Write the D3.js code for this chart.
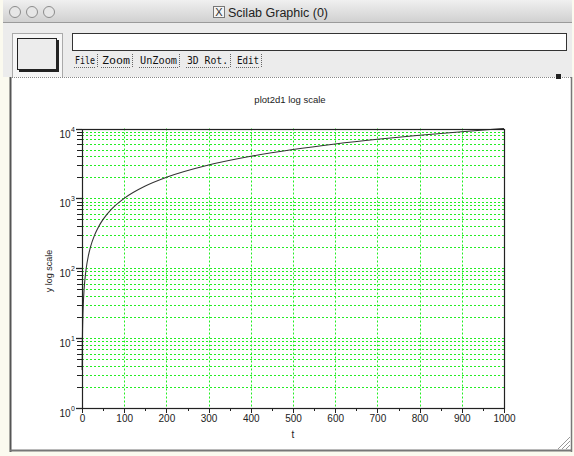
<!DOCTYPE html>
<html>
<head>
<meta charset="utf-8">
<script src="https://cdn.jsdelivr.net/npm/d3@7"></script>
<style>
  html, body { margin: 0; padding: 0; background: #fbfaef; }
  text { font-family: "Liberation Sans", Arial, sans-serif; }
</style>
</head>
<body>
<div id="chart"></div>
<script>
const WIDTH = 574;
const HEIGHT = 456;

// values
const tValues = [0.35, 1, 2, 3, 5, 7, 10, 15, 20, 30, 40, 50, 70, 100, 150, 200, 300, 400, 500, 600, 700, 800, 900, 1000];
const yValues = [3.5, 10, 20, 30, 50, 70, 100, 150, 200, 300, 400, 500, 700, 1000, 1500, 2000, 3000, 4000, 5000, 6000, 7000, 8000, 9000, 10000];
const xTicks = [0, 100, 200, 300, 400, 500, 600, 700, 800, 900, 1000];
const xMinorTicks = [50, 150, 250, 350, 450, 550, 650, 750, 850, 950];
const yDecades = [1, 10, 100, 1000, 10000];
const yExponents = ["0", "1", "2", "3", "4"];
const menuItems = ["File", "Zoom", "UnZoom", "3D Rot.", "Edit"];
const menuStarts = [75, 102, 140, 187, 237];
const menuWidths = [20, 28, 37, 41, 22];

const GRID_GREEN = "#22ee22";

let svg = d3.select("#chart")
    .append("svg")
    .attr("width", WIDTH)
    .attr("height", HEIGHT);

let defs = svg.append("defs");
let grad = defs.append("linearGradient")
    .attr("id", "titlebar")
    .attr("x1", 0).attr("y1", 0).attr("x2", 0).attr("y2", 1);
grad.append("stop").attr("offset", "0%").attr("stop-color", "#f0f0f0");
grad.append("stop").attr("offset", "100%").attr("stop-color", "#cfcfcf");

// ---- window chrome ----
svg.append("rect")
    .attr("x", 0).attr("y", 0)
    .attr("width", WIDTH).attr("height", HEIGHT)
    .attr("fill", "#fbfaef");

svg.append("rect")
    .attr("x", 3).attr("y", 0)
    .attr("width", 569).attr("height", 23)
    .attr("fill", "url(#titlebar)");
svg.append("line")
    .attr("x1", 3).attr("x2", 572).attr("y1", 22.5).attr("y2", 22.5)
    .attr("stroke", "#9a9a9a");

[15, 32, 49].forEach(cx => {
    svg.append("circle")
        .attr("cx", cx).attr("cy", 12).attr("r", 5.5)
        .attr("fill", "#e6e6e6")
        .attr("stroke", "#8c8c8c");
});

// X icon
svg.append("rect")
    .attr("x", 213.5).attr("y", 6.5).attr("width", 11).attr("height", 11)
    .attr("fill", "#f4f4f4").attr("stroke", "#777");
svg.append("text")
    .attr("x", 219).attr("y", 16)
    .attr("text-anchor", "middle")
    .style("font-size", "11px")
    .attr("fill", "#333")
    .text("X");
svg.append("text")
    .attr("x", 228).attr("y", 16.5)
    .style("font-size", "12.5px")
    .attr("fill", "#222")
    .text("Scilab Graphic (0)");

// toolbar
svg.append("rect")
    .attr("x", 3).attr("y", 23)
    .attr("width", 569).attr("height", 54)
    .attr("fill", "#ececec");

svg.append("rect")
    .attr("x", 12.5).attr("y", 33.5).attr("width", 50).attr("height", 44)
    .attr("fill", "#f6f6f6").attr("stroke", "#aaa");
svg.append("rect")
    .attr("x", 19).attr("y", 40).attr("width", 40).attr("height", 32)
    .attr("fill", "#222");
svg.append("rect")
    .attr("x", 17.5).attr("y", 38.5).attr("width", 39).attr("height", 31)
    .attr("fill", "#ececec").attr("stroke", "#222");

svg.append("rect")
    .attr("x", 72.5).attr("y", 33.5).attr("width", 494).attr("height", 17)
    .attr("fill", "#ffffff").attr("stroke", "#333");

menuItems.forEach((name, i) => {
    let menuX = menuStarts[i];
    let w = menuWidths[i];
    svg.append("text")
        .attr("x", menuX).attr("y", 64)
        .attr("textLength", w)
        .attr("lengthAdjust", "spacingAndGlyphs")
        .style("font-family", "'DejaVu Sans Mono', monospace")
        .style("font-size", "10px")
        .attr("fill", "#111")
        .text(name);
    svg.append("line")
        .attr("x1", menuX - 1).attr("x2", menuX + w + 1)
        .attr("y1", 67.5).attr("y2", 67.5)
        .attr("stroke", "#666").attr("stroke-dasharray", "1,1");
    svg.append("line")
        .attr("x1", menuX + w + 2.5).attr("x2", menuX + w + 2.5)
        .attr("y1", 54).attr("y2", 67)
        .attr("stroke", "#666").attr("stroke-dasharray", "1,1");
});

// canvas area
svg.append("rect")
    .attr("x", 10).attr("y", 77)
    .attr("width", 562).attr("height", 374)
    .attr("fill", "#ffffff");
svg.append("line")
    .attr("x1", 10).attr("x2", 572).attr("y1", 77.5).attr("y2", 77.5)
    .attr("stroke", "#888").attr("stroke-dasharray", "1,1");
svg.append("rect")
    .attr("x", 556).attr("y", 74).attr("width", 5).attr("height", 5)
    .attr("fill", "#222");
svg.append("line")
    .attr("x1", 10.5).attr("x2", 10.5).attr("y1", 77).attr("y2", 452)
    .attr("stroke", "#555").attr("stroke-width", 2);
svg.append("line")
    .attr("x1", 571.5).attr("x2", 571.5).attr("y1", 77).attr("y2", 452)
    .attr("stroke", "#777").attr("stroke-width", 1.5);
svg.append("line")
    .attr("x1", 10).attr("x2", 572).attr("y1", 450.5).attr("y2", 450.5)
    .attr("stroke", "#777").attr("stroke-width", 2);
[0, 4, 8].forEach(d => {
    svg.append("line")
        .attr("x1", 558 + d).attr("y1", 449)
        .attr("x2", 570).attr("y2", 437 + d)
        .attr("stroke", "#999");
});

// ---- plot ----
const x = d3.scaleLinear().domain([0, 1000]).range([82, 504]);
const y = d3.scaleLog().domain([1, 10000]).range([408, 128.5]);

let yMinor = [];
yDecades.slice(0, -1).forEach(d => {
    for (let k = 2; k <= 9; k++) yMinor.push(d * k);
});
let yGrid = yMinor.concat(yDecades.slice(1, -1));

let plot = svg.append("g").attr("class", "plot");

// grid
plot.selectAll("line.hgrid")
    .data(yGrid)
    .enter()
    .append("line")
    .attr("class", "hgrid")
    .attr("x1", x(0)).attr("x2", x(1000))
    .attr("y1", d => Math.round(y(d)) + 0.5)
    .attr("y2", d => Math.round(y(d)) + 0.5)
    .attr("stroke", GRID_GREEN)
    .attr("stroke-dasharray", "2,2");

plot.selectAll("line.vgrid")
    .data(xTicks.slice(1, -1))
    .enter()
    .append("line")
    .attr("class", "vgrid")
    .attr("x1", d => Math.round(x(d)) + 0.5)
    .attr("x2", d => Math.round(x(d)) + 0.5)
    .attr("y1", y(10000)).attr("y2", y(1))
    .attr("stroke", GRID_GREEN)
    .attr("stroke-dasharray", "2,2");

// curve
let line = d3.line()
    .x((d, i) => x(tValues[i]))
    .y(d => y(d))
    .curve(d3.curveMonotoneX);

plot.append("path")
    .datum(yValues)
    .attr("d", line)
    .attr("fill", "none")
    .attr("stroke", "#333")
    .attr("stroke-width", 1.1);

// frame
plot.append("rect")
    .attr("x", x(0) + 0.5).attr("y", Math.round(y(10000)) + 0.5)
    .attr("width", x(1000) - x(0))
    .attr("height", Math.round(y(1)) - Math.round(y(10000)))
    .attr("fill", "none")
    .attr("stroke", "#222")
    .attr("stroke-width", 1.2);

// x axis ticks
plot.selectAll("line.xtick")
    .data(xTicks)
    .enter()
    .append("line")
    .attr("class", "xtick")
    .attr("x1", d => Math.round(x(d)) + 0.5)
    .attr("x2", d => Math.round(x(d)) + 0.5)
    .attr("y1", 408).attr("y2", 413)
    .attr("stroke", "#222");
plot.selectAll("line.xminor")
    .data(xMinorTicks)
    .enter()
    .append("line")
    .attr("class", "xminor")
    .attr("x1", d => Math.round(x(d)) + 0.5)
    .attr("x2", d => Math.round(x(d)) + 0.5)
    .attr("y1", 408).attr("y2", 411)
    .attr("stroke", "#222");
plot.selectAll("text.xlabel")
    .data(xTicks)
    .enter()
    .append("text")
    .attr("class", "xlabel")
    .attr("x", d => x(d) + 0.5)
    .attr("y", 422)
    .attr("text-anchor", "middle")
    .style("font-size", "10px")
    .attr("fill", "#222")
    .text(d => d);

// y axis ticks
plot.selectAll("line.ytick")
    .data(yDecades)
    .enter()
    .append("line")
    .attr("class", "ytick")
    .attr("x1", 76).attr("x2", 82)
    .attr("y1", d => Math.round(y(d)) + 0.5)
    .attr("y2", d => Math.round(y(d)) + 0.5)
    .attr("stroke", "#222")
    .attr("stroke-width", 1.3);
plot.selectAll("line.yminor")
    .data(yMinor)
    .enter()
    .append("line")
    .attr("class", "yminor")
    .attr("x1", 77).attr("x2", 82)
    .attr("y1", d => Math.round(y(d)) + 0.5)
    .attr("y2", d => Math.round(y(d)) + 0.5)
    .attr("stroke", "#222");

let ylab = plot.selectAll("g.ylabel")
    .data(yDecades)
    .enter()
    .append("g")
    .attr("class", "ylabel")
    .attr("transform", d => `translate(0, ${y(d)})`);
ylab.append("text")
    .attr("x", 70.5).attr("y", 9)
    .attr("text-anchor", "end")
    .style("font-size", "10px")
    .attr("fill", "#222")
    .text("10");
ylab.append("text")
    .attr("x", 71).attr("y", 3)
    .style("font-size", "7px")
    .attr("fill", "#222")
    .text((d, i) => yExponents[i]);

// titles
svg.append("text")
    .attr("x", 290).attr("y", 103)
    .attr("text-anchor", "middle")
    .style("font-size", "9.5px")
    .attr("fill", "#222")
    .text("plot2d1 log scale");

svg.append("text")
    .attr("x", 293).attr("y", 438)
    .attr("text-anchor", "middle")
    .style("font-size", "10px")
    .attr("fill", "#222")
    .text("t");

svg.append("text")
    .attr("transform", "translate(52, 271) rotate(-90)")
    .attr("text-anchor", "middle")
    .style("font-size", "9px")
    .attr("fill", "#222")
    .text("y log scale");
</script>
</body>
</html>
